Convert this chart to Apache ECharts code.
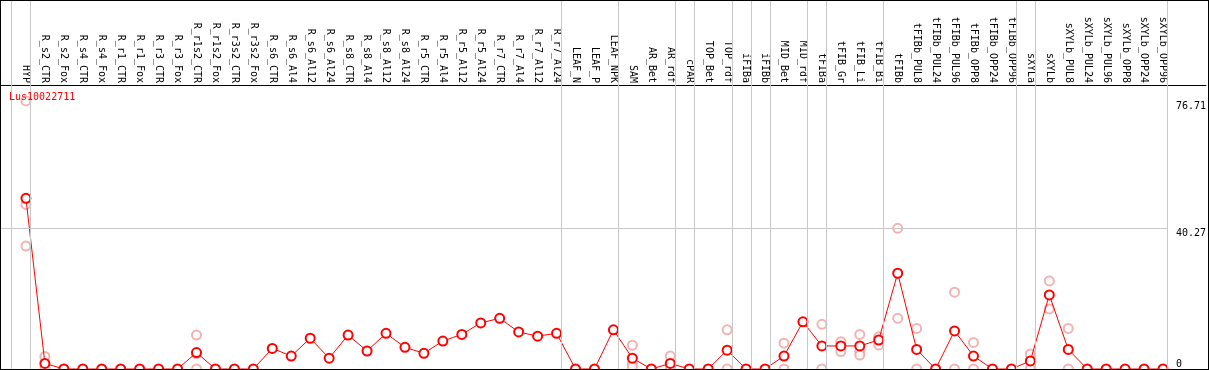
<!DOCTYPE html>
<html>
<head>
<meta charset="utf-8">
<script src="https://cdn.jsdelivr.net/npm/echarts@6/dist/echarts.min.js"></script>
<style>
    html, body { margin: 0; padding: 0; background: #fff; }
    #wrap { position: relative; width: 1209px; height: 370px; }
    #chart { width: 1209px; height: 370px; }
    #frame {
        position: absolute; left: 0; top: 0; width: 1209px; height: 370px;
        box-sizing: border-box; border: 1px solid #000; pointer-events: none;
    }
</style>
</head>
<body>
<div id="wrap">
    <div id="chart"></div>
    <div id="frame"></div>
</div>
<script>
// gene / samples
const geneName = 'Lus10022711'
const categories = [
    'HYP', 'R_s2_CTR', 'R_s2_Fox', 'R_s4_CTR', 'R_s4_Fox', 'R_r1_CTR', 'R_r1_Fox', 'R_r3_CTR', 'R_r3_Fox',
    'R_r1s2_CTR', 'R_r1s2_Fox', 'R_r3s2_CTR', 'R_r3s2_Fox',
    'R_s6_CTR', 'R_s6_Al4', 'R_s6_Al12', 'R_s6_Al24', 'R_s8_CTR', 'R_s8_Al4', 'R_s8_Al12', 'R_s8_Al24',
    'R_r5_CTR', 'R_r5_Al4', 'R_r5_Al12', 'R_r5_Al24', 'R_r7_CTR', 'R_r7_Al4', 'R_r7_Al12', 'R_r7_Al24',
    'LEAF_N', 'LEAF_P', 'LEAF_NPK', 'SAM', 'AR_Bet', 'AR_rdf', 'cPAR', 'TOP_Bet', 'TOP_rdf',
    'iFIBa', 'iFIBb', 'MID_Bet', 'MID_rdf', 'tFIBa', 'tFIB_Gr', 'tFIB_Li', 'tFIB_Bi',
    'tFIBb', 'tFIBb_PUL8', 'tFIBb_PUL24', 'tFIBb_PUL96', 'tFIBb_OPP8', 'tFIBb_OPP24', 'tFIBb_OPP96',
    'sXYLa', 'sXYLb', 'sXYLb_PUL8', 'sXYLb_PUL24', 'sXYLb_PUL96', 'sXYLb_OPP8', 'sXYLb_OPP24', 'sXYLb_OPP96'
]
// mean expression
const meanValues = [
    48.85, 1.6, 0, 0, 0, 0, 0, 0, 0,
    4.7, 0, 0, 0,
    5.9, 3.7, 8.8, 3.1, 9.7, 5.15, 10.2, 6.2,
    4.5, 8.0, 9.9, 13.2, 14.5, 10.6, 9.4, 10.2,
    0, 0, 11.2, 3.1, 0, 1.6, 0, 0, 5.4,
    0, 0, 3.7, 13.5, 6.6, 6.6, 6.6, 8.3,
    27.4, 5.6, 0, 10.9, 3.7, 0, 0,
    2.3, 21.2, 5.6, 0, 0, 0, 0, 0
]
// single replicates (light points)
const replicateValues = [
    [76.71, 47.1, 35.2], [3.6, 0], [], [], [], [], [], [], [],
    [9.7, 4.4, 0], [], [], [],
    [], [], [], [], [], [], [], [],
    [], [], [], [], [], [], [], [],
    [], [], [], [6.8, 1.6, 0.7], [], [3.7, 0], [], [], [11.2, 0],
    [], [], [7.4, 0], [], [12.8, 0], [7.8, 5.0], [9.9, 5.0, 4.0], [9.2, 6.9],
    [40.27, 14.5], [11.6, 0], [], [22.0, 0], [7.6, 0], [], [],
    [4.3, 0], [25.2, 17.2], [11.6, 0], [], [], [], [], []
]
// last sample index of every tissue group
const groupEnds = [0, 28, 31, 34, 35, 37, 38, 39, 41, 42, 45, 52, 53, 60]
const yTickLabels = [40.27, 76.71]
const yZeroLabel = [0]
const yMax = 105.6

const lineColor = '#ff0000'
const repColor = '#eea0a0'
const gridColor = '#c8c8c8'
const monoFont = 'DejaVu Sans Mono'

const xMin = -26 / 19
const xMax = (1209 - 26) / 19

const repData = []
replicateValues.forEach((list, i) => {
    list.forEach(v => repData.push([i, v]))
})
const meanData = meanValues.map((v, i) => [i, v])

const vLines = [{ xAxis: groupEnds[0] - 0.75 }].concat(groupEnds.map(e => ({ xAxis: e + 0.25 })))
const lastLine = groupEnds[groupEnds.length - 1] + 0.25

const myChart = echarts.init(document.getElementById('chart'), null, { renderer: 'canvas' })

const option = {
    animation: false,
    backgroundColor: '#fff',
    title: {
        text: geneName,
        left: 9,
        top: 92,
        padding: 0,
        textStyle: { color: lineColor, fontFamily: monoFont, fontSize: 10, fontWeight: 'normal' }
    },
    grid: { left: 0, right: 0, top: 0, bottom: 1 },
    xAxis: {
        type: 'value',
        min: xMin,
        max: xMax,
        position: 'top',
        offset: -85,
        axisLine: { show: true, onZero: false, lineStyle: { color: '#000', width: 1 } },
        axisTick: { show: false },
        splitLine: { show: false },
        axisLabel: {
            customValues: categories.map((c, i) => i),
            formatter: v => categories[Math.round(v)] || '',
            rotate: 90,
            margin: 2,
            color: '#000',
            fontFamily: monoFont,
            fontSize: 10,
            hideOverlap: false,
            showMinLabel: true,
            showMaxLabel: true
        }
    },
    yAxis: [
        {
            type: 'value',
            min: 0,
            max: yMax,
            position: 'right',
            axisLine: { show: false, onZero: false },
            axisTick: { show: false },
            splitLine: { show: false },
            axisLabel: {
                customValues: yTickLabels,
                formatter: v => String(v),
                inside: true,
                margin: 30,
                align: 'left',
                verticalAlign: 'top',
                color: '#000',
                fontFamily: monoFont,
                fontSize: 10
            }
        },
        {
            type: 'value',
            min: 0,
            max: yMax,
            position: 'right',
            axisLine: { show: false, onZero: false },
            axisTick: { show: false },
            splitLine: { show: false },
            axisLabel: {
                customValues: yZeroLabel,
                formatter: v => String(v),
                inside: true,
                margin: 30,
                align: 'left',
                verticalAlign: 'bottom',
                color: '#000',
                fontFamily: monoFont,
                fontSize: 10
            }
        }
    ],
    series: [
        {
            name: 'replicates',
            type: 'scatter',
            symbol: 'emptyCircle',
            symbolSize: 9,
            itemStyle: { color: repColor, borderColor: repColor, borderWidth: 1.4 },
            data: repData,
            z: 2,
            markLine: {
                silent: true,
                symbol: 'none',
                label: { show: false },
                lineStyle: { color: gridColor, width: 1, type: 'solid' },
                data: vLines.concat([[{ coord: [xMin, yTickLabels[0]] }, { coord: [lastLine, yTickLabels[0]] }]])
            }
        },
        {
            name: 'mean',
            type: 'line',
            symbol: 'emptyCircle',
            symbolSize: 9,
            showAllSymbol: true,
            lineStyle: { color: lineColor, width: 1 },
            itemStyle: { color: lineColor, borderColor: lineColor, borderWidth: 1.6 },
            data: meanData,
            z: 3
        }
    ]
}
myChart.setOption(option)
</script>
</body>
</html>
